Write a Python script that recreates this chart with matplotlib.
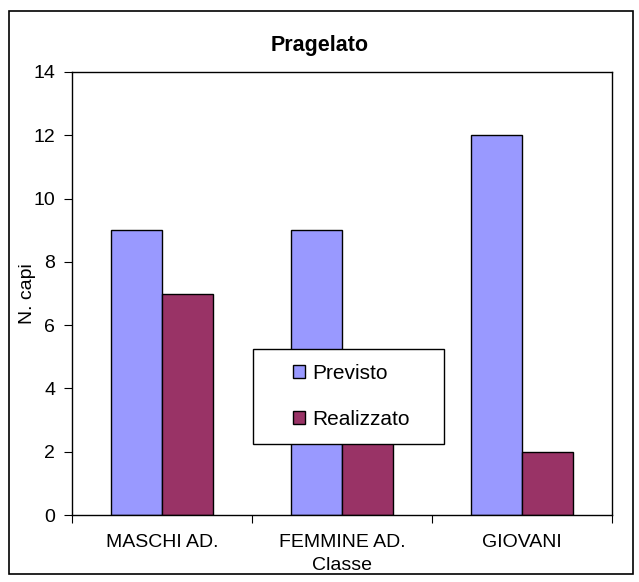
import numpy as np
import matplotlib.pyplot as plt
from matplotlib.patches import Rectangle

categories = ["MASCHI AD.", "FEMMINE AD.", "GIOVANI"]
previsto = [9, 9, 12]
realizzato = [7, 3, 2]  # middle bar is hidden behind the legend, value estimated

plt.rcParams["font.family"] = ["Liberation Sans", "DejaVu Sans"]
plt.rcParams["font.size"] = 14

fig = plt.figure(figsize=(6.39, 5.82), dpi=100)
W, H = 639, 582
ax = fig.add_axes([72 / W, 1 - 515 / H, (612 - 72) / W, (515 - 72) / H])

x = np.arange(len(categories))
w = 0.283
ax.bar(x - w / 2, previsto, w, color="#9999FF", edgecolor="black", linewidth=1,
       label="Previsto")
ax.bar(x + w / 2, realizzato, w, color="#993366", edgecolor="black", linewidth=1,
       label="Realizzato")

ax.set_xlim(-0.5, 2.5)
ax.set_ylim(0, 14)
ax.set_yticks(range(0, 15, 2))
ax.set_xticks([-0.5, 0.5, 1.5, 2.5])
ax.set_xticklabels([])
ax.set_xticks(x, minor=True)
ax.set_xticklabels(categories, minor=True)
ax.tick_params(axis="x", which="minor", length=0, pad=14)
ax.tick_params(axis="x", which="major", length=6, direction="out")
ax.tick_params(axis="y", length=6, direction="out", pad=6)
for s in ax.spines.values():
    s.set_linewidth(1)

ax.set_ylabel("N. capi")
ax.yaxis.set_label_coords(-(72 - 36) / 540, 0.5)
fig.text((72 + 612) / 2 / W, 1 - 566 / H, "Classe", ha="center", va="center")
fig.text(0.5, 1 - 45 / H, "Pragelato", ha="center", va="center",
         fontweight="bold", fontsize=15.5)

# legend box
bx0, bx1, by0, by1 = 253, 444, 349, 444
ax.add_patch(Rectangle(((bx0 - 72) / 540, (515 - by1) / 443),
                       (bx1 - bx0) / 540, (by1 - by0) / 443,
                       transform=ax.transAxes, facecolor="white",
                       edgecolor="black", linewidth=1, zorder=4))
leg = ax.legend(loc="center", bbox_to_anchor=(((bx0 + bx1) / 2 - 72) / 540 + 0.005,
                                              (515 - (by0 + by1) / 2) / 443),
                frameon=False, fontsize=15, labelspacing=1.3, handlelength=0.6,
                handleheight=0.6, handletextpad=0.35, borderpad=0)
leg.set_zorder(5)

fig.patches.append(Rectangle((9 / W, 1 - 574 / H), (633 - 9) / W, (574 - 11) / H,
                             transform=fig.transFigure, fill=False,
                             edgecolor="black", linewidth=1.2))

fig.savefig("out.png", dpi=100)
